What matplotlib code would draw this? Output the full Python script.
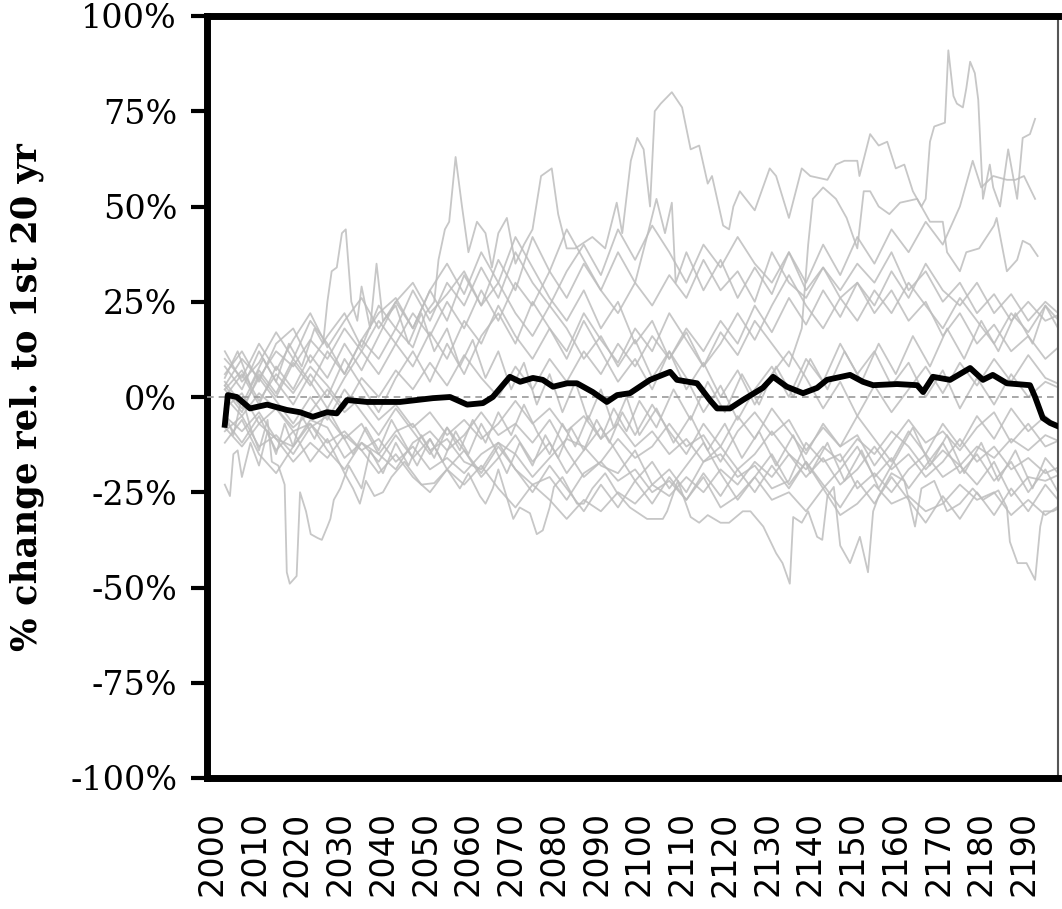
import matplotlib
matplotlib.use("Agg")
import matplotlib.pyplot as plt
from matplotlib.ticker import FixedLocator, FuncFormatter

# ---------------- data ----------------
x_ticks = list(range(2000, 2200, 10))
y_ticks = [-100, -75, -50, -25, 0, 25, 50, 75, 100]
y_label = "% change rel. to 1st 20 yr"

# ensemble mean (thick black line)
mean_years = [2003.0, 2003.7, 2005.8, 2008.9, 2012.9, 2017.5, 2020.6, 2023.6, 2026.9, 2029.2,
              2031.6, 2036.3, 2044.0, 2051.7, 2055.7, 2059.7, 2063.4, 2065.7, 2069.7, 2072.1,
              2075.1, 2077.4, 2079.8, 2083.1, 2085.4, 2089.1, 2092.4, 2094.8, 2097.8, 2102.5,
              2107.2, 2108.8, 2113.5, 2116.5, 2118.2, 2121.2, 2124.2, 2128.9, 2131.3, 2134.5,
              2138.3, 2141.6, 2143.9, 2149.3, 2152.3, 2154.7, 2160.3, 2165.0, 2166.4, 2168.7,
              2172.7, 2177.4, 2180.4, 2182.7, 2186.0, 2191.4, 2192.6, 2194.4, 2196.1, 2198.4]
mean_vals = [-7.3, 0.5, 0.0, -3.0, -2.0, -3.4, -4.0, -5.2, -4.0, -4.3,
             -0.8, -1.3, -1.3, -0.3, 0.0, -2.0, -1.6, 0.0, 5.3, 4.0,
             5.0, 4.5, 2.7, 3.6, 3.6, 1.3, -1.3, 0.5, 1.0, 4.5,
             6.6, 4.5, 3.6, -0.8, -3.0, -3.0, -0.8, 2.4, 5.3, 2.7,
             1.0, 2.4, 4.5, 5.8, 4.0, 3.1, 3.4, 3.1, 1.3, 5.3,
             4.5, 7.6, 4.5, 5.8, 3.6, 3.1, 0.0, -5.5, -6.8, -7.9]

# ensemble members on a 4-year grid
grid_years = list(range(2003, 2200, 4))
m01 = [3, 10, 5, 12, 8, 15, 10, 18, 12, 20, 14, 22, 16, 25, 18, 28, 20, 30, 24, 33,
       26, 35, 28, 22, 30, 24, 32, 26, 36, 28, 33, 25, 38, 30, 26, 34, 28, 35, 30, 38,
       28, 33, 25, 30, 22, 27, 20, 25, 20, 22]
m02 = [-5, -9, -4, -11, -13, -6, -8, -16, -12, -15, -9, -7, -14, -11, -17, -19, -12, -15, -21, -16,
       -11, -13, -18, -20, -14, -23, -19, -25, -17, -15, -21, -18, -24, -22, -12, -17, -15, -24, -20, -25,
       -19, -15, -21, -18, -23, -17, -26, -21, -22, -20]
m03 = [8, 2, 12, 4, -2, 6, 0, 10, 3, -4, 5, 12, 4, 14, 6, 16, 22, 14, 25, 18,
       10, 20, 12, 4, 10, 2, 12, 5, -4, 3, -6, 2, 8, 0, 10, 4, 14, 6, 12, 3,
       9, 0, 7, -3, 5, -2, 6, 0, 4, 2]
m04 = [0, -5, 1, -3, -9, -7, -12, -9, -14, -11, -17, -13, -19, -16, -20, -15, -12, -19, -23, -21,
       -27, -20, -17, -22, -19, -25, -22, -27, -21, -29, -26, -21, -27, -25, -30, -24, -31, -28, -23, -28,
       -26, -30, -28, -23, -27, -25, -31, -27, -31, -28]
m05 = [6, 12, 4, 14, 18, 9, 16, 22, 13, 24, 18, 28, 20, 30, 24, 34, 26, 38, 30, 24,
       33, 40, 32, 44, 36, 45, 38, 30, 40, 34, 42, 35, 30, 38, 28, 34, 26, 30, 22, 28,
       20, 25, 16, 22, 14, 19, 12, 16, 10, 14]
m06 = [-9, -5, -13, -10, -15, -8, -5, -11, -7, -15, -19, -12, -9, -14, -10, -4, -10, -7, -12, -6,
       -14, -21, -17, -11, -16, -13, -7, -13, -10, -17, -9, -4, -10, -6, -14, -8, -13, -10, -18, -12,
       -6, -12, -9, -14, -8, -4, -12, -7, -13, -11]
m07 = [12, 4, 9, 17, 10, 20, 14, 6, 15, 22, 26, 18, 28, 35, 27, 38, 30, 42, 34, 26,
       20, 28, 18, 25, 14, 20, 10, 17, 8, 14, 22, 15, 24, 32, 24, 18, 26, 20, 28, 22,
       30, 24, 18, 26, 20, 14, 22, 17, 24, 19]
m08 = [-8, -13, -7, -11, -17, -12, -16, -10, -14, -20, -15, -21, -25, -19, -23, -18, -24, -29, -23, -27,
       -32, -27, -30, -25, -28, -23, -26, -21, -25, -19, -23, -17, -21, -15, -19, -13, -17, -11, -15, -9,
       -13, -19, -14, -18, -13, -16, -11, -14, -10, -12]
m09 = [2, 7, -1, 6, 1, 8, 3, -3, 5, 0, 7, 2, 9, 3, 11, 5, 0, 8, 2, 10,
       4, 12, 6, 14, 8, 16, 10, 18, 12, 20, 14, 24, 17, 26, 19, 28, 21, 30, 24, 33,
       26, 35, 28, 24, 30, 22, 27, 20, 25, 21]
m10 = [-3, 1, -7, -3, -8, -4, 2, -4, 0, -6, -2, -8, -4, -10, -6, -11, -7, -1, -7, -3,
       -9, -5, -11, -7, -13, -9, -15, -11, -17, -13, -19, -15, -9, -15, -21, -16, -23, -19, -13, -19,
       -15, -21, -17, -11, -17, -13, -19, -16, -20, -18]
m11 = [10, 5, 14, 7, 15, 22, 13, 20, 26, 18, 25, 30, 22, 27, 33, 24, 30, 22, 16, 24,
       18, 10, 16, 8, 15, 5, 12, 2, 9, 0, 7, -2, 6, 12, 5, -3, 4, -5, 3, -4,
       2, 8, 1, 9, 3, 10, 4, 11, 5, 3]
m12 = [-12, -6, -15, -20, -13, -7, -14, -19, -12, -17, -10, -16, -11, -19, -14, -21, -16, -10, -17, -12,
       -20, -14, -8, -15, -22, -17, -24, -18, -12, -20, -27, -21, -15, -23, -17, -24, -19, -13, -21, -16,
       -24, -18, -12, -20, -15, -22, -17, -25, -19, -27]

# individually traced members (year, value %)
top1 = [(2003, 2), (2007, -4), (2011, 6), (2015, 0), (2019, 9), (2023, 3), (2027, 12), (2031, 6),
        (2035, 15), (2039, 10), (2043, 18), (2047, 13), (2050, 22), (2052, 25), (2053, 36),
        (2054.5, 44), (2055.5, 46), (2057, 63), (2058.5, 50), (2060, 38), (2062, 46), (2064, 43),
        (2065.5, 34), (2067, 43), (2069, 47), (2071, 35), (2073, 40), (2075, 44), (2077, 58),
        (2079.5, 60), (2081, 48), (2083, 39), (2085, 39), (2089, 42), (2092, 39), (2094.7, 51),
        (2096, 43), (2098, 62), (2099.5, 68), (2101, 65), (2102.5, 50), (2103.6, 75), (2105, 77),
        (2107.6, 80), (2110, 76), (2112, 65), (2114, 66), (2116, 56), (2117, 58), (2119.6, 45),
        (2121, 44), (2122, 50), (2123.5, 54), (2127, 49), (2130.5, 60), (2132, 58), (2135, 47),
        (2138, 60), (2140, 58), (2144, 57), (2146, 61), (2148, 62), (2151, 62), (2151.5, 58),
        (2154, 69), (2156, 66), (2158, 67), (2160, 60), (2162, 61), (2164, 54), (2166, 50),
        (2167, 52), (2168, 67), (2169, 71), (2171.5, 72), (2172.3, 91), (2173.5, 79), (2174.3, 77),
        (2175.7, 76), (2176.5, 81), (2177.4, 88), (2178.5, 85), (2179.3, 78), (2180.4, 52),
        (2182, 61), (2182.8, 55), (2184.4, 50), (2186.3, 65), (2188.4, 52), (2189.7, 68),
        (2191.4, 69), (2192.6, 73)]
top2 = [(2003, 4), (2007, -2), (2011, 7), (2015, 1), (2019, 10), (2023, 4), (2027, -3), (2031, 5),
        (2035, 12), (2039, 6), (2043, 14), (2047, 8), (2051, 17), (2055, 10), (2059, 20), (2063, 14),
        (2067, 24), (2071, 16), (2075, 10), (2079, 18), (2083, 12), (2087, 22), (2091, 15), (2095, 9),
        (2099, 18), (2103, 12), (2107, 22), (2111, 15), (2115, 8), (2119, 17), (2123, 11), (2127, 20),
        (2131, 14), (2135, 8), (2138, 18), (2139.5, 40), (2140.6, 52), (2143, 55), (2146, 52),
        (2148.5, 47), (2151, 39), (2152.5, 54), (2154, 54), (2156, 50), (2158.5, 48), (2161, 51),
        (2165, 52), (2168, 46), (2171, 46), (2172, 38), (2175, 33), (2176.5, 38), (2179.5, 39),
        (2183, 45), (2183.6, 47), (2186, 33), (2188.4, 36), (2189.7, 41), (2191.4, 40), (2193.2, 37)]
top3 = [(2003, 0), (2007, 6), (2011, -2), (2015, 8), (2019, 2), (2023, 11), (2027, 5), (2031, 14),
        (2035, 7), (2039, 16), (2043, 25), (2047, 18), (2051, 28), (2055, 20), (2059, 32), (2063, 24),
        (2067, 36), (2071, 28), (2075, 42), (2079, 33), (2083, 44), (2087, 36), (2091, 28), (2095, 38),
        (2099, 30), (2102, 43), (2104, 52), (2106, 43), (2107.6, 51), (2108.5, 30), (2111, 38),
        (2115, 28), (2119, 36), (2123, 26), (2127, 34), (2131, 27), (2135, 38), (2139, 30), (2143, 40),
        (2147, 32), (2151, 42), (2155, 35), (2159, 44), (2163, 38), (2167, 46), (2171, 40), (2175, 50),
        (2178, 62), (2180, 55), (2182.8, 58), (2186, 57), (2188, 57), (2190, 58), (2192.6, 52)]
top4 = [(2003, 5), (2006, 12), (2009, 3), (2012, 10), (2015, 4), (2018, 14), (2021, 8), (2024, 18),
        (2026, 14), (2027, 25), (2028, 33), (2029.2, 34), (2030.4, 43), (2031.3, 44), (2032.6, 25),
        (2034, 20), (2035, 29), (2037, 18), (2038.5, 35), (2040, 20), (2043, 24), (2046, 14), (2049, 22),
        (2052, 12), (2055, 18), (2058, 8), (2061, 15), (2064, 5), (2067, 12), (2070, 2), (2073, 9),
        (2076, -2), (2079, 6), (2082, -4), (2085, 4), (2088, -6), (2091, 2), (2094, -8), (2097, 0),
        (2100, -10), (2104, -3), (2108, -12), (2112, -5), (2116, -14), (2120, -7), (2124, -16),
        (2128, -9), (2132, -18), (2136, -10), (2140, -20), (2144, -12), (2148, -22), (2152, -14),
        (2156, -24), (2160, -16), (2164, -8), (2168, -18), (2172, -10), (2176, -20), (2180, -12),
        (2184, -22), (2188, -14), (2192, -24), (2195, -16), (2198, -20)]
low1 = [(2003, -4), (2005, -10), (2007, 0), (2009, -8), (2011, -14), (2013, -6), (2014, -17),
        (2015.5, -18), (2017, -23), (2017.5, -46), (2018.2, -49), (2019.8, -47), (2020.6, -25),
        (2022, -30), (2023.1, -36), (2024.7, -37), (2025.7, -37.5), (2027, -34), (2027.7, -32),
        (2028.5, -27), (2030, -24), (2032, -18), (2035, -24), (2037, -14), (2040, -20), (2043, -12),
        (2046, -18), (2049, -10), (2052, -16), (2055, -8), (2058, -14), (2061, -6), (2064, -12),
        (2067, -4), (2070, -10), (2073, -2), (2076, -9), (2079, -15), (2082, -7), (2085, -13),
        (2088, -5), (2091, -11), (2094, -3), (2097, -9), (2100, -1), (2104, -8), (2108, 2), (2112, -6),
        (2116, 4), (2120, -4), (2124, 6), (2128, -2), (2132, 8), (2136, 0), (2140, 10), (2144, 2),
        (2148, 12), (2152, 4), (2156, 14), (2160, 6), (2164, 16), (2168, 8), (2172, 18), (2176, 10),
        (2180, 20), (2184, 12), (2188, 22), (2192, 14), (2195, 24), (2198, 18)]
low2 = [(2003, -23), (2004.2, -26), (2005, -15), (2006, -14), (2007, -21), (2009, -12), (2011, -18),
        (2013, -9), (2015, -15), (2017, -7), (2019, -13), (2021, -5), (2024, -11), (2027, -3),
        (2030, -9), (2033, -15), (2036, -8), (2039, -14), (2042, -6), (2045, -12), (2048, -18),
        (2051, -11), (2054, -17), (2057, -9), (2060, -15), (2063, -7), (2066, -13), (2069, -20),
        (2072, -12), (2075, -18), (2078, -10), (2081, -16), (2084, -8), (2087, -14), (2090, -6),
        (2093, -12), (2096, -4), (2099, -10), (2103, -2), (2107, -9), (2111, -15), (2115, -7),
        (2119, -13), (2123, -5), (2127, -11), (2131, -3), (2135, -9), (2139, -15), (2143, -7),
        (2147, -13), (2151, -5), (2155, -11), (2159, -17), (2163, -9), (2167, -15), (2171, -7),
        (2175, -13), (2179, -5), (2183, -11), (2187, -3), (2191, -9), (2195, -5), (2198, -8)]
low3 = [(2003, -6), (2007, -12), (2011, -5), (2015, -14), (2019, -9), (2023, -17), (2027, -11),
        (2031, -20), (2033, -24), (2034.6, -28), (2036, -22), (2038, -26), (2040, -25), (2042, -21),
        (2045, -17), (2049, -23), (2052, -22.6), (2055, -19), (2058, -24), (2060, -20), (2062.7, -26),
        (2064, -28), (2065.7, -24), (2067, -19), (2070.5, -32), (2072, -29), (2074.4, -30.5),
        (2076, -36), (2077.4, -35), (2079, -29), (2080, -23.6), (2082, -21), (2085.4, -28),
        (2087, -28), (2089, -24), (2092, -20), (2094.7, -25), (2097.8, -29), (2101.8, -32),
        (2105.5, -32), (2106.5, -30), (2109, -22), (2112, -31.5), (2114, -33), (2116, -31),
        (2119, -33), (2121, -33), (2124.2, -30), (2126, -30), (2129, -34), (2130.5, -37.5),
        (2132, -41), (2133.5, -43.6), (2135.2, -49), (2136, -31.5), (2138, -33), (2139.5, -30),
        (2141.6, -36.7), (2142.8, -37.5), (2144, -26), (2145.5, -23.6), (2147, -39), (2149.3, -43.6),
        (2151.6, -36.7), (2153.5, -46), (2154.7, -30), (2156, -26), (2159, -20), (2162, -22),
        (2164.5, -34), (2166, -24), (2169, -22), (2172, -30), (2175, -28), (2178, -24), (2180.4, -27),
        (2184, -24.5), (2186, -29), (2186.7, -38), (2188.5, -43.6), (2190.6, -43.6), (2192.6, -48),
        (2193.8, -34), (2194.6, -30), (2196.8, -30), (2198.4, -29)]
low4 = [(2003, 3), (2007, -3), (2011, 5), (2015, -1), (2019, -7), (2023, 0), (2027, -6), (2031, 2),
        (2035, -4), (2039, -10), (2043, -3), (2047, -9), (2051, -15), (2055, -8), (2059, -14),
        (2063, -20), (2067, -13), (2071, -19), (2075, -25), (2079, -18), (2083, -24), (2087, -30),
        (2091, -23), (2095, -29), (2099, -22), (2103, -28), (2107, -21), (2111, -27), (2115, -20),
        (2119, -26), (2123, -19), (2127, -25), (2131, -18), (2135, -24), (2139, -17), (2143, -23),
        (2147, -29), (2151, -22), (2155, -28), (2159, -21), (2163, -27), (2167, -33), (2171, -26),
        (2175, -32), (2179, -25), (2183, -31), (2187, -24), (2191, -30), (2195, -23), (2198, -27)]

grid_members = [m01, m02, m03, m04, m05, m06, m07, m08, m09, m10, m11, m12]
traced_members = [top1, top2, top3, top4, low1, low2, low3, low4]

# ---------------- figure ----------------
W, H, DPI = 1062, 909, 100
fig = plt.figure(figsize=(W / DPI, H / DPI), dpi=DPI)
ax = fig.add_axes([207 / W, 1 - 778 / H, (1058 - 207) / W, (778 - 16) / H])

gray = "#bdbdbd"
for vals in grid_members:
    ax.plot(grid_years, vals, color=gray, lw=1.3, alpha=0.85, zorder=2)
for pts in traced_members:
    xs, ys = zip(*pts)
    ax.plot(xs, ys, color=gray, lw=1.3, alpha=0.85, zorder=2)

ax.axhline(0, color="#9a9a9a", lw=1.2, ls=(0, (4, 3)), zorder=3)
ax.plot(mean_years, mean_vals, color="black", lw=4.2, zorder=4, solid_joinstyle="round")

ax.set_xlim(1998.83, 2197.96)
ax.set_ylim(-100, 100)

ax.xaxis.set_major_locator(FixedLocator(x_ticks))
ax.set_xticklabels([str(t) for t in x_ticks], rotation=90,
                   fontfamily="DejaVu Sans", fontsize=24)
ax.tick_params(axis="x", length=0, pad=24)

ax.yaxis.set_major_locator(FixedLocator(y_ticks))
ax.yaxis.set_major_formatter(FuncFormatter(lambda v, p: f"{int(v)}%"))
for lab in ax.get_yticklabels():
    lab.set_fontfamily("DejaVu Serif")
    lab.set_fontsize(24)
ax.tick_params(axis="y", length=11.5, width=3, pad=10, direction="out")

ax.set_ylabel(y_label, fontfamily="DejaVu Serif", fontweight="bold", fontsize=25.5)
ax.yaxis.label.set_va("center")
ax.yaxis.set_label_coords((27 - 207) / (1058 - 207), 0.5)

for side in ("left", "bottom", "top"):
    ax.spines[side].set_linewidth(5)
    ax.spines[side].set_color("black")
ax.spines["right"].set_linewidth(1.5)
ax.spines["right"].set_color("#555555")

fig.savefig("out.png", dpi=DPI)
